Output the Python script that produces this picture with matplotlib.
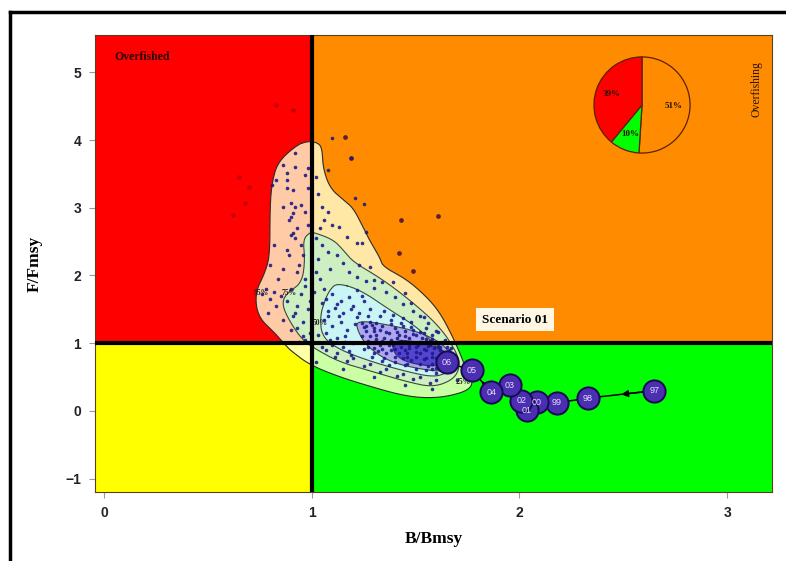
import numpy as np
import matplotlib.pyplot as plt
from matplotlib.lines import Line2D

# axis extent (B/Bmsy, F/Fmsy)
b_min, b_max = -0.043, 3.216
f_min, f_max = -1.196, 5.55

# stock trajectory, labelled by year
years = ["97", "98", "99", "00", "01", "02", "03", "04", "05", "06"]
traj_b = [2.65, 2.33, 2.18, 2.085, 2.035, 2.01, 1.955, 1.865, 1.77, 1.65]
traj_f = [0.30, 0.19, 0.12, 0.13, 0.01, 0.15, 0.38, 0.28, 0.60, 0.72]

# kite pie: share of runs per quadrant
pie_share = [51, 10, 39]
pie_colors = ["#ff8c00", "#00ff00", "#ff0000"]

# simulated B/Bmsy, F/Fmsy pairs
sim_b = [0.92, 0.86, 0.92, 0.98, 0.88, 0.97, 0.83, 0.88, 0.81, 0.88, 0.91, 0.98, 0.86, 0.90,
         0.92, 0.95, 0.97, 0.91, 0.90, 0.89, 0.98, 0.93, 0.91, 0.90, 0.92, 0.82, 0.88, 0.89,
         0.80, 0.86, 0.84, 0.78, 0.82, 0.85, 0.80, 0.76, 0.83, 0.79, 0.86, 0.90, 0.94,
         1.10, 1.19, 1.08, 1.21, 1.25, 1.05, 1.08, 1.06, 1.10, 1.13, 1.17, 1.22, 1.24, 1.26,
         1.02, 1.03, 1.04, 1.23, 1.28, 1.30, 1.34, 1.39, 1.45, 1.48, 1.54, 1.61, 1.63, 1.67,
         1.02, 1.15, 1.30, 1.45, 1.58, 1.70,
         0.95, 0.96, 0.93, 0.97, 0.90, 0.95, 0.88, 0.93, 0.98, 0.91, 0.96, 0.93, 0.99, 0.97,
         1.02, 1.05, 1.08, 1.03, 1.12, 1.15, 1.09, 1.18, 1.22, 1.26, 1.30, 1.36, 1.40, 1.44,
         1.49, 1.52, 1.56, 1.60, 1.64, 1.66, 1.05, 1.12, 1.20, 1.28, 1.36, 1.44, 1.52, 1.60,
         1.00, 1.02, 1.04,
         1.06, 1.10, 1.05, 1.12, 1.08, 1.15, 1.20, 1.18, 1.25, 1.28, 1.06, 1.10, 1.14, 1.07,
         1.12, 1.17, 1.20, 1.25, 1.15, 1.30, 1.35, 1.40, 1.45, 1.50, 1.55, 1.60, 1.33, 1.38,
         1.43, 1.48, 1.52, 1.58, 1.62, 1.22, 1.26, 1.30, 1.24, 1.10, 1.18, 1.08, 1.14, 1.22,
         1.16,
         1.24, 1.28, 1.30, 1.34, 1.36, 1.40, 1.42, 1.45, 1.47, 1.50, 1.52, 1.55, 1.57, 1.60,
         1.62, 1.64, 1.62, 1.58, 1.55, 1.52, 1.50, 1.47, 1.45, 1.42, 1.40, 1.38, 1.35, 1.33,
         1.30, 1.28, 1.27, 1.32, 1.36, 1.40, 1.44, 1.48, 1.52, 1.56, 1.60, 1.66, 1.65, 1.38,
         1.44, 1.49, 1.54, 1.58, 1.46, 1.50, 1.54, 1.58, 1.43, 1.37, 1.31, 1.26, 1.60, 1.64,
         1.48, 1.41, 1.34, 1.56]
sim_f = [3.81, 3.63, 3.60, 3.59, 3.52, 3.49, 3.41, 3.41, 3.34, 3.29, 3.26, 3.29, 3.01, 3.07,
         3.01, 3.04, 2.94, 2.92, 2.87, 2.82, 2.75, 2.70, 2.63, 2.60, 2.56, 2.45, 2.38, 2.30,
         2.15, 2.10, 1.95, 1.80, 1.75, 1.70, 1.65, 1.72, 1.55, 1.45, 1.35, 1.20, 1.02,
         4.03, 3.74, 3.56, 3.15, 3.06, 3.01, 2.94, 2.82, 2.75, 2.72, 2.57, 2.48, 2.48, 2.64,
         3.45, 3.20, 2.70, 2.16, 2.12, 1.94, 1.91, 1.91, 1.74, 1.60, 1.39, 1.17, 1.02, 0.93,
         0.72, 0.62, 0.50, 0.38, 0.32, 0.45,
         2.45, 2.30, 2.05, 1.95, 1.80, 1.72, 1.62, 1.55, 1.50, 1.40, 1.32, 1.22, 1.15, 1.05,
         2.55, 2.45, 2.35, 2.25, 2.30, 2.18, 2.10, 2.05, 1.98, 1.92, 1.82, 1.76, 1.68, 1.58,
         1.48, 1.40, 1.30, 1.18, 1.05, 0.90, 0.95, 0.85, 0.78, 0.70, 0.62, 0.55, 0.50, 0.45,
         0.95, 2.05, 1.95,
         1.80, 1.72, 1.60, 1.58, 1.48, 1.45, 1.55, 1.68, 1.62, 1.50, 1.35, 1.25, 1.32, 1.15,
         1.08, 1.20, 1.00, 0.92, 0.95, 0.85, 0.78, 0.72, 0.68, 0.62, 0.60, 0.56, 1.40, 1.35,
         1.30, 1.24, 1.16, 1.06, 0.95, 1.38, 1.26, 1.18, 1.10, 0.98, 0.88, 1.40, 1.62, 1.78,
         1.10,
         1.30, 1.32, 1.22, 1.25, 1.17, 1.22, 1.12, 1.18, 1.08, 1.12, 1.02, 1.06, 0.98, 1.00,
         0.90, 0.82, 0.75, 0.70, 0.78, 0.86, 0.95, 0.98, 0.90, 1.00, 0.92, 1.05, 1.08, 0.98,
         1.02, 1.10, 0.95, 0.88, 0.85, 0.80, 0.78, 0.75, 0.70, 0.66, 0.64, 0.70, 0.95, 1.28,
         1.25, 1.20, 1.15, 1.12, 0.85, 0.80, 0.92, 0.86, 0.95, 0.97, 1.12, 1.18, 0.78, 0.68,
         1.02, 1.08, 0.92, 0.96]

# further runs in the core of the cloud
core_b = [1.25, 1.29, 1.33, 1.37, 1.41, 1.45, 1.49, 1.53, 1.57, 1.61, 1.65,
          1.27, 1.31, 1.35, 1.39, 1.43, 1.47, 1.51, 1.55, 1.59, 1.63,
          1.30, 1.34, 1.38, 1.42, 1.46, 1.50, 1.54, 1.58, 1.62,
          1.07, 1.11, 1.13, 1.19, 1.23, 1.27, 1.21, 1.16, 1.09, 1.31, 1.35, 1.39,
          1.44, 1.48, 1.55, 1.58, 1.62, 1.46, 1.34, 1.29, 1.19, 1.24, 1.37,
          0.94, 0.97, 0.99, 0.92, 0.96, 1.01, 1.03, 1.07, 1.11, 1.17, 1.25, 1.33,
          1.41, 1.49, 1.57]
core_f = [1.24, 1.27, 1.20, 1.15, 1.16, 1.10, 1.14, 1.08, 1.04, 0.96, 0.84,
          1.03, 1.06, 1.01, 0.97, 1.03, 0.93, 0.98, 0.90, 0.93, 0.87,
          0.93, 1.03, 0.90, 0.86, 0.80, 0.87, 0.76, 0.80, 0.70,
          1.66, 1.52, 1.40, 1.50, 1.45, 1.40, 1.28, 1.02, 1.05, 1.30, 1.48, 1.42,
          1.37, 1.32, 1.22, 0.62, 0.62, 0.70, 0.74, 0.80, 0.82, 1.70, 0.68,
          2.15, 1.85, 1.62, 1.45, 1.10, 1.75, 1.12, 0.90, 0.80, 0.74, 0.66, 0.58,
          0.52, 0.47, 0.42]

# runs falling outside the density contours
out_b = [1.61, 1.43, 1.42, 1.49, 1.16, 1.19]
out_f = [2.88, 2.82, 2.33, 2.06, 4.05, 3.73]
faint_b = [0.65, 0.70, 0.68, 0.83, 0.91, 0.62]
faint_f = [3.46, 3.31, 3.07, 4.52, 4.45, 2.90]

# density contour outlines, outermost first
c1_b = [0.93, 0.98, 1.02, 1.05, 1.054, 1.088, 1.151, 1.199, 1.242, 1.271, 1.329, 1.343, 1.459,
        1.555, 1.618, 1.680, 1.728, 1.748, 1.777, 1.76, 1.651, 1.536, 1.425, 1.295, 1.136,
        0.99, 0.896, 0.881, 0.823, 0.741, 0.727, 0.775, 0.799, 0.799, 0.809, 0.838]
c1_f = [3.93, 3.98, 3.97, 3.90, 3.59, 3.29, 3.12, 3.00, 2.75, 2.56, 2.26, 2.13, 1.94, 1.68,
        1.45, 1.09, 0.75, 0.56, 0.46, 0.31, 0.21, 0.19, 0.24, 0.35, 0.50, 0.68, 0.90, 0.95,
        1.15, 1.39, 1.74, 2.04, 2.30, 3.00, 3.38, 3.68]
c2_b = [0.992, 1.016, 1.103, 1.151, 1.199, 1.343, 1.488, 1.618, 1.700, 1.714, 1.680, 1.584,
        1.459, 1.295, 1.136, 1.026, 0.953, 0.881, 0.857, 0.881, 0.953, 0.968, 0.958]
c2_f = [2.64, 2.63, 2.53, 2.38, 2.20, 1.94, 1.60, 1.24, 0.86, 0.64, 0.46, 0.35, 0.43, 0.58,
        0.72, 0.90, 1.05, 1.39, 1.60, 1.74, 1.89, 2.23, 2.53]
c3_b = [1.122, 1.233, 1.377, 1.507, 1.603, 1.666, 1.651, 1.584, 1.459, 1.295, 1.136, 1.050,
        1.040, 1.064, 1.088]
c3_f = [1.89, 1.79, 1.49, 1.24, 0.95, 0.65, 0.56, 0.50, 0.58, 0.72, 0.90, 1.09, 1.39, 1.64,
        1.79]
c4_b = [1.218, 1.377, 1.536, 1.651, 1.680, 1.642, 1.536, 1.377, 1.266, 1.218]
c4_f = [1.34, 1.27, 1.15, 0.95, 0.71, 0.58, 0.61, 0.72, 0.95, 1.20]
c5_b = [1.391, 1.521, 1.642, 1.666, 1.594, 1.449, 1.391]
c5_f = [1.05, 1.02, 0.90, 0.72, 0.65, 0.72, 0.87]


def smooth(xs, ys, n=3):
    # Chaikin corner cutting on a closed outline
    p = np.column_stack([xs, ys]).astype(float)
    for _ in range(n):
        q = np.roll(p, -1, axis=0)
        new = np.empty((2 * len(p), 2))
        new[0::2] = 0.75 * p + 0.25 * q
        new[1::2] = 0.25 * p + 0.75 * q
        p = new
    return np.append(p[:, 0], p[0, 0]), np.append(p[:, 1], p[0, 1])


fig = plt.figure(figsize=(7.86, 5.61), dpi=100)
ax = fig.add_axes([0.1209, 0.123, 0.8613, 0.8146])
ax.set_xlim(b_min, b_max)
ax.set_ylim(f_min, f_max)

# quadrants
ax.fill_between([b_min, 1], 1, f_max, color="#ff0000", lw=0, zorder=0)
ax.fill_between([1, b_max], 1, f_max, color="#ff8c00", lw=0, zorder=0)
ax.fill_between([b_min, 1], f_min, 1, color="#ffff00", lw=0, zorder=0)
ax.fill_between([1, b_max], f_min, 1, color="#00ff00", lw=0, zorder=0)

# density contours
levels = [(c1_b, c1_f, (1.0, 1.0, 0.82), 0.8, "#2b2b2b"),
          (c2_b, c2_f, "#cdefc2", 1.0, "#3a4a3a"),
          (c3_b, c3_f, "#c9f6f4", 1.0, "#3a4a3a"),
          (c4_b, c4_f, "#aea6ee", 1.0, "#3a4a3a"),
          (c5_b, c5_f, "#5544d0", 1.0, "#2a2a80")]
for xs, ys, fc, a, ec in levels:
    sx, sy = smooth(xs, ys)
    ax.fill(sx, sy, color=fc, alpha=a, lw=0, zorder=1)
    ax.plot(sx, sy, color=ec, lw=0.8, zorder=1.5)

# simulated runs
ax.plot(faint_b, faint_f, "o", ms=2.4, color="#8a0010", alpha=0.35, zorder=2)
ax.plot(out_b, out_f, "o", ms=2.4, color="#5a2030", zorder=2)
ax.plot(sim_b, sim_f, "o", ms=2.6, color="#1c1a8a", alpha=0.9, mec="none", zorder=2)
ax.plot(core_b, core_f, "o", ms=2.6, color="#1c1a8a", alpha=0.9, mec="none", zorder=2)

# contour level labels
for b, f, s in [(0.76, 1.74, "95%"), (0.89, 1.74, "75%"), (1.04, 1.30, "50%"),
                (1.73, 0.43, "25%")]:
    ax.text(b, f, s, fontsize=5.5, color="#222222", family="Liberation Serif",
            fontweight="bold", ha="center", va="center", zorder=2.5)

# reference points
ax.axvline(1, color="black", lw=3, zorder=3)
ax.axhline(1, color="black", lw=3, zorder=3)

# trajectory
ax.plot(traj_b, traj_f, color="black", lw=1.1, zorder=4)
for i in (0, 7):
    mid = ((traj_b[i] + traj_b[i + 1]) / 2, (traj_f[i] + traj_f[i + 1]) / 2)
    ax.annotate("", xy=mid, xytext=(traj_b[i], traj_f[i]),
                arrowprops=dict(arrowstyle="-|>", color="black", lw=1.1,
                                mutation_scale=10, shrinkA=0, shrinkB=0), zorder=4)
ax.plot(traj_b, traj_f, "o", ms=16, mfc="#4a2fb0", mec="#160a55", mew=1.4, lw=0, zorder=5)
for b, f, y in zip(traj_b, traj_f, years):
    ax.text(b, f, y, fontsize=6.5, color="#e6dcff", ha="center", va="center",
            family="Liberation Sans", zorder=6)

# annotations
ax.text(0.05, 5.22, "Overfished", fontsize=8.5, fontweight="bold", color="#2a0000",
        family="Liberation Serif", ha="left", va="center")
ax.text(3.14, 4.75, "Overfishing", fontsize=8.5, color="#2a1400", rotation=90,
        family="Liberation Serif", ha="center", va="center")
ax.text(1.98, 1.35, "Scenario 01", fontsize=9.5, fontweight="bold", color="black",
        family="Liberation Serif", ha="center", va="center", zorder=6,
        bbox=dict(boxstyle="square,pad=0.45", fc="#fff6e4", ec="none"))

# axes styling
ax.set_xticks([0, 1, 2, 3])
ax.set_yticks([-1, 0, 1, 2, 3, 4, 5])
ax.tick_params(length=4, width=0.8, color="#999999", labelsize=10, pad=6)
for lab in ax.get_xticklabels() + ax.get_yticklabels():
    lab.set_family("Liberation Sans")
    lab.set_fontweight("bold")
    lab.set_color("#222222")
for sp in ax.spines.values():
    sp.set_color("#5a4020")
    sp.set_linewidth(0.8)
ax.set_xlabel("B/Bmsy", fontsize=12.5, fontweight="bold", family="Liberation Serif", labelpad=8)
ax.set_ylabel("F/Fmsy", fontsize=12.5, fontweight="bold", family="Liberation Serif", labelpad=16)

# kite pie inset
pax = fig.add_axes([0.8168 - 0.0630, 0.8128 - 0.0882, 0.1260, 0.1765])
pax.pie(pie_share, colors=pie_colors, startangle=90, counterclock=False,
        autopct=lambda p: f"{p:.0f}%", pctdistance=0.66,
        wedgeprops=dict(edgecolor="#5a2200", linewidth=0.9),
        textprops=dict(fontsize=6.5, fontweight="bold", color="#2a1000",
                       family="Liberation Serif"))
pax.set_xlim(-1.03, 1.03)
pax.set_ylim(-1.03, 1.03)
pax.set_aspect("equal")

# outer frame
fig.add_artist(Line2D([0.0127, 0.0127], [-0.1, 0.9786], color="black", lw=2.5))
fig.add_artist(Line2D([0.0127, 1.1], [0.9786, 0.9786], color="black", lw=2.5))

fig.savefig("out.png", dpi=100)
